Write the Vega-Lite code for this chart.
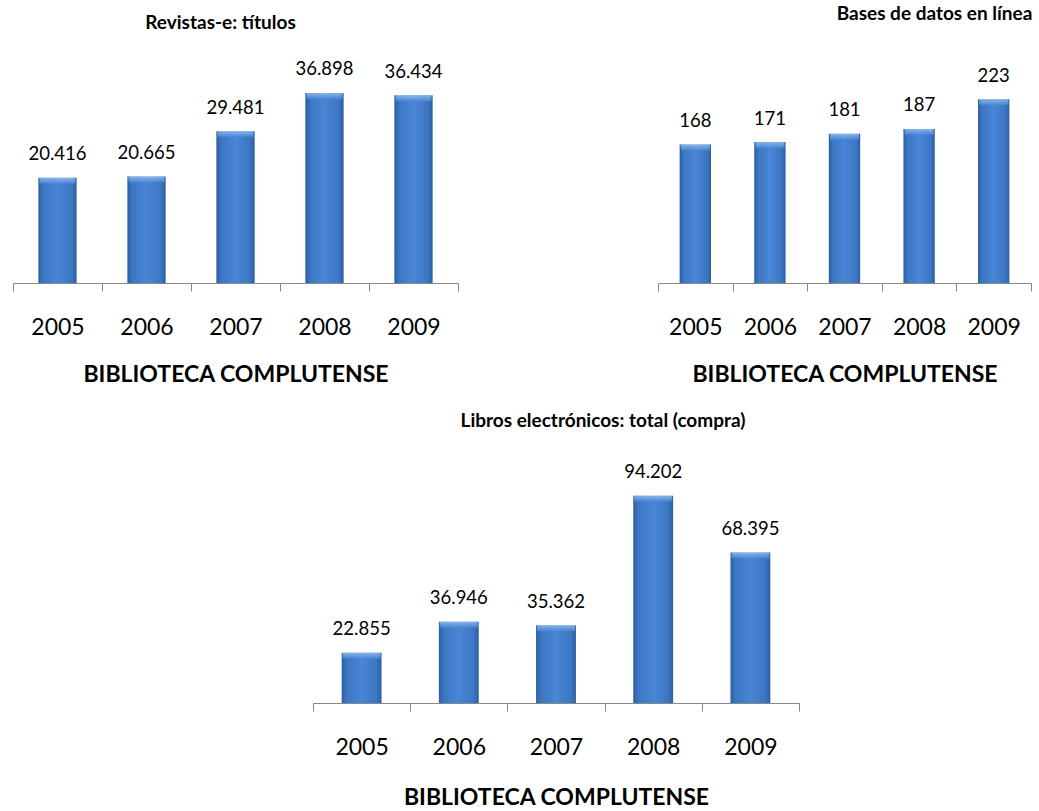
{
  "$schema": "https://vega.github.io/schema/vega-lite/v6.json",
  "background": "white",
  "padding": {"left": 12, "top": 4, "right": 0, "bottom": 0},
  "config": {
    "view": {"stroke": null},
    "font": "Lato",
    "locale": {"number": {"decimal": ",", "thousands": ".", "grouping": [3], "currency": ["", " €"]}},
    "axis": {
      "domainColor": "#888888", "tickColor": "#888888", "tickSize": 8, "tickBand": "extent",
      "labelFont": "Lato", "labelFontSize": 23, "labelColor": "#000000", "labelBaseline": "alphabetic",
      "labelPadding": 43, "labelAngle": 0,
      "titleFont": "Lato", "titleFontSize": 23, "titleFontWeight": "bold", "titleColor": "#000000",
      "titlePadding": 24, "grid": false
    },
    "title": {"font": "Lato", "fontSize": 19, "fontWeight": "bold", "color": "#000000", "baseline": "alphabetic", "anchor": "middle"}
  },
  "datasets": {
    "revistas": [
      {"anio": "2005", "valor": 20416},
      {"anio": "2006", "valor": 20665},
      {"anio": "2007", "valor": 29481},
      {"anio": "2008", "valor": 36898},
      {"anio": "2009", "valor": 36434}
    ],
    "bases": [
      {"anio": "2005", "valor": 168},
      {"anio": "2006", "valor": 171},
      {"anio": "2007", "valor": 181},
      {"anio": "2008", "valor": 187},
      {"anio": "2009", "valor": 223}
    ],
    "libros": [
      {"anio": "2005", "valor": 22855},
      {"anio": "2006", "valor": 36946},
      {"anio": "2007", "valor": 35362},
      {"anio": "2008", "valor": 94202},
      {"anio": "2009", "valor": 68395}
    ]
  },
  "bounds": "flush",
  "spacing": 406,
  "vconcat": [
    {
      "bounds": "flush",
      "spacing": 200,
      "hconcat": [
        {
          "width": 445, "height": 206,
          "data": {"name": "revistas"},
          "title": {"text": "Revistas-e: títulos", "offset": 27, "dx": -15},
          "encoding": {
            "x": {"field": "anio", "type": "ordinal", "scale": {"paddingInner": 0, "paddingOuter": 0}, "axis": {"title": "BIBLIOTECA COMPLUTENSE"}},
            "y": {"field": "valor", "type": "quantitative", "scale": {"domain": [0, 40000]}, "axis": null}
          },
          "layer": [
            {"mark": {"type": "bar", "width": {"band": 0.43}, "color": {"gradient": "linear", "x1": 0, "x2": 1, "y1": 0, "y2": 0, "stops": [{"offset": 0, "color": "#2a5d9f"}, {"offset": 0.12, "color": "#3b76c2"}, {"offset": 0.5, "color": "#4a86d6"}, {"offset": 0.88, "color": "#3b76c2"}, {"offset": 1, "color": "#2a5d9f"}]}}},
            {"mark": {"type": "tick", "orient": "horizontal", "thickness": 6, "size": 36, "yOffset": 3, "color": {"gradient": "linear", "x1": 0, "x2": 0, "y1": 0, "y2": 1, "stops": [{"offset": 0, "color": "#a6cdf5"}, {"offset": 1, "color": "#4a86d6"}]}}},
            {"mark": {"type": "text", "baseline": "alphabetic", "dy": -17.5, "fontSize": 18.5, "color": "#000000"}, "encoding": {"text": {"field": "valor", "type": "quantitative", "format": ",d"}}}
          ]
        },
        {
          "width": 373, "height": 206,
          "data": {"name": "bases"},
          "title": {"text": "Bases de datos en línea", "offset": 43, "dx": 90},
          "encoding": {
            "x": {"field": "anio", "type": "ordinal", "scale": {"paddingInner": 0, "paddingOuter": 0}, "axis": {"title": "BIBLIOTECA COMPLUTENSE"}},
            "y": {"field": "valor", "type": "quantitative", "scale": {"domain": [0, 250]}, "axis": null}
          },
          "layer": [
            {"mark": {"type": "bar", "width": {"band": 0.42}, "color": {"gradient": "linear", "x1": 0, "x2": 1, "y1": 0, "y2": 0, "stops": [{"offset": 0, "color": "#2a5d9f"}, {"offset": 0.12, "color": "#3b76c2"}, {"offset": 0.5, "color": "#4a86d6"}, {"offset": 0.88, "color": "#3b76c2"}, {"offset": 1, "color": "#2a5d9f"}]}}},
            {"mark": {"type": "tick", "orient": "horizontal", "thickness": 6, "size": 29, "yOffset": 3, "color": {"gradient": "linear", "x1": 0, "x2": 0, "y1": 0, "y2": 1, "stops": [{"offset": 0, "color": "#a6cdf5"}, {"offset": 1, "color": "#4a86d6"}]}}},
            {"mark": {"type": "text", "baseline": "alphabetic", "dy": -17.5, "fontSize": 18.5, "color": "#000000"}, "encoding": {"text": {"field": "valor", "type": "quantitative", "format": ",d"}}}
          ]
        }
      ]
    },
    {
      "bounds": "flush",
      "spacing": 10,
      "hconcat": [
        {
          "width": 290, "height": 220,
          "data": {"values": []},
          "mark": "text",
          "encoding": {}
        },
        {
          "width": 486, "height": 220,
          "data": {"name": "libros"},
          "title": {"text": "Libros electrónicos: total (compra)", "offset": 32, "dx": 47},
          "encoding": {
            "x": {"field": "anio", "type": "ordinal", "scale": {"paddingInner": 0, "paddingOuter": 0}, "axis": {"title": "BIBLIOTECA COMPLUTENSE", "titlePadding": 27}},
            "y": {"field": "valor", "type": "quantitative", "scale": {"domain": [0, 100000]}, "axis": null}
          },
          "layer": [
            {"mark": {"type": "bar", "width": {"band": 0.41}, "color": {"gradient": "linear", "x1": 0, "x2": 1, "y1": 0, "y2": 0, "stops": [{"offset": 0, "color": "#2a5d9f"}, {"offset": 0.12, "color": "#3b76c2"}, {"offset": 0.5, "color": "#4a86d6"}, {"offset": 0.88, "color": "#3b76c2"}, {"offset": 1, "color": "#2a5d9f"}]}}},
            {"mark": {"type": "tick", "orient": "horizontal", "thickness": 6, "size": 38, "yOffset": 3, "color": {"gradient": "linear", "x1": 0, "x2": 0, "y1": 0, "y2": 1, "stops": [{"offset": 0, "color": "#a6cdf5"}, {"offset": 1, "color": "#4a86d6"}]}}},
            {"mark": {"type": "text", "baseline": "alphabetic", "dy": -17.5, "fontSize": 18.5, "color": "#000000"}, "encoding": {"text": {"field": "valor", "type": "quantitative", "format": ",d"}}}
          ]
        }
      ]
    }
  ]
}
